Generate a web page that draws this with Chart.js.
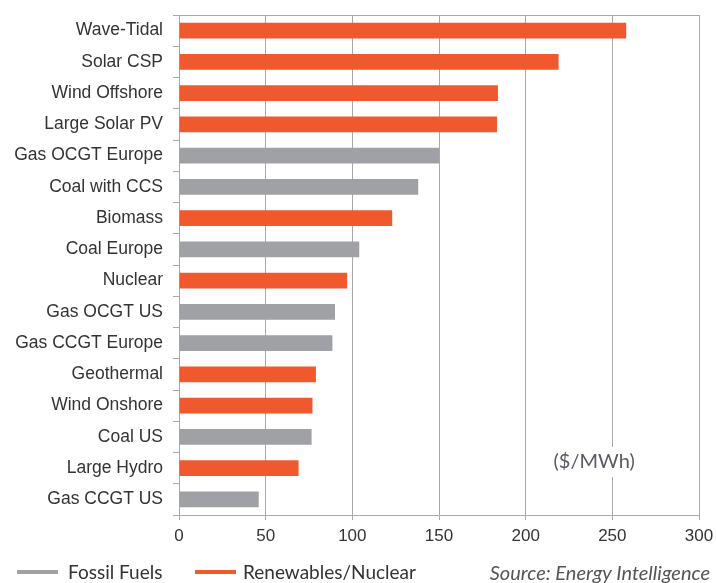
<!DOCTYPE html>
<html>
<head>
<meta charset="utf-8">
<script src="https://cdn.jsdelivr.net/npm/chart.js@4/dist/chart.umd.min.js"></script>
<style>
  html, body { margin: 0; padding: 0; background: #fff; }
  #wrap { position: relative; width: 716px; height: 583px; }
  #chart { position: absolute; left: 0; top: 0; }
  .legend { position: absolute; top: 560px; font-family: Lato, "Open Sans", sans-serif; font-size: 19px; color: #333; line-height: 24px; white-space: nowrap; }
  .swatch { position: absolute; top: 10px; height: 4px; width: 41px; }
  .source { position: absolute; top: 560px; right: 6px; font-family: Lato, "Open Sans", sans-serif; font-style: italic; font-size: 20px; color: #555; line-height: 24px; white-space: nowrap; }
</style>
</head>
<body>
<div id="wrap">
  <canvas id="chart" width="716" height="583"></canvas>
  <div class="legend" style="left:17px;"><span class="swatch" style="left:0;background:#a0a1a4"></span><span style="margin-left:51px">Fossil Fuels</span></div>
  <div class="legend" style="left:195px;"><span class="swatch" style="left:0;background:#f0592d"></span><span style="margin-left:48px">Renewables/Nuclear</span></div>
  <div class="source">Source: Energy Intelligence</div>
</div>
<script>
// Levelised cost of electricity by technology ($/MWh)
const categories = [
  'Wave-Tidal', 'Solar CSP', 'Wind Offshore', 'Large Solar PV', 'Gas OCGT Europe',
  'Coal with CCS', 'Biomass', 'Coal Europe', 'Nuclear', 'Gas OCGT US',
  'Gas CCGT Europe', 'Geothermal', 'Wind Onshore', 'Coal US', 'Large Hydro', 'Gas CCGT US'
];
const costs = [258, 219, 184, 183.5, 150, 138, 123, 104, 97, 90, 88.5, 79, 77, 76.5, 69, 46];
// 'F' = fossil fuels, 'R' = renewables / nuclear
const groups = ['R', 'R', 'R', 'R', 'F', 'F', 'R', 'F', 'R', 'F', 'F', 'R', 'R', 'F', 'R', 'F'];
const xTicks = [0, 50, 100, 150, 200, 250, 300];

const FOSSIL = '#a0a1a4';
const RENEW = '#f0592d';
const GRID = '#a9a9ac';
const LABEL_FONT = '"Liberation Sans", Arial, sans-serif';

// Frame line along the top of the plot and the unit label
const extras = {
  id: 'extras',
  afterDraw(chart) {
    const { ctx, chartArea: a } = chart;
    ctx.save();
    ctx.strokeStyle = GRID;
    ctx.lineWidth = 1;
    ctx.beginPath();
    ctx.moveTo(a.left, a.top + 0.5);
    ctx.lineTo(a.right, a.top + 0.5);
    ctx.stroke();

    const x = chart.scales.x.getPixelForValue(239.5);
    const y = chart.scales.y.getPixelForValue(13.8);
    ctx.font = '20px Lato, "Open Sans", sans-serif';
    ctx.textAlign = 'center';
    ctx.textBaseline = 'middle';
    const w = ctx.measureText('($/MWh)').width;
    ctx.fillStyle = '#fff';
    ctx.fillRect(x - w / 2 - 3, y - 15, w + 6, 30);
    ctx.fillStyle = '#5a5a66';
    ctx.fillText('($/MWh)', x, y);
    ctx.restore();
  }
};

new Chart(document.getElementById('chart'), {
  type: 'bar',
  data: {
    labels: categories,
    datasets: [{
      data: costs,
      backgroundColor: groups.map(g => g === 'F' ? FOSSIL : RENEW),
      borderWidth: 0,
      barPercentage: 0.5,
      categoryPercentage: 1
    }]
  },
  options: {
    indexAxis: 'y',
    responsive: false,
    animation: false,
    layout: { padding: { top: 15, right: 17, left: 0, bottom: 0 } },
    plugins: { legend: { display: false }, tooltip: { enabled: false } },
    scales: {
      x: {
        min: 0, max: 300,
        afterBuildTicks(scale) { scale.ticks = xTicks.map(v => ({ value: v })); },
        afterFit(scale) { scale.height = 68; scale.paddingLeft = 0; scale.paddingRight = 0; },
        grid: { color: GRID, lineWidth: 1, tickLength: 5, drawTicks: true },
        border: { color: GRID, width: 1 },
        ticks: { color: '#333', font: { family: LABEL_FONT, size: 17 }, padding: 6, maxRotation: 0 }
      },
      y: {
        afterFit(scale) { scale.width = 179; scale.paddingTop = 0; scale.paddingBottom = 0; },
        grid: { offset: true, drawOnChartArea: false, drawTicks: true, tickLength: 6, color: GRID },
        border: { color: GRID, width: 1 },
        ticks: { color: '#333', font: { family: LABEL_FONT, size: 17.5 }, padding: 10, autoSkip: false }
      }
    }
  },
  plugins: [extras]
});
</script>
</body>
</html>
